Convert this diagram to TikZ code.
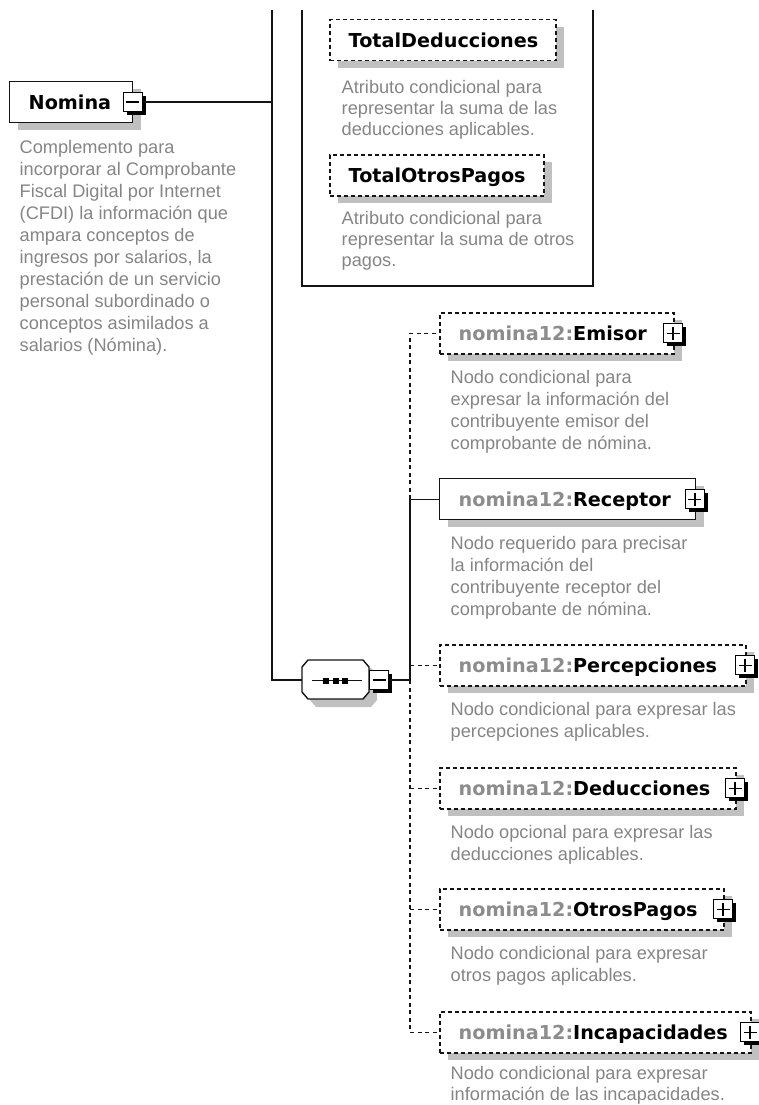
\documentclass[tikz,border=0pt]{standalone}
\usepackage{fontspec}
\setmainfont{Liberation Sans}
\newfontfamily\titlefam{DejaVu Sans}
\usetikzlibrary{shadows}
\definecolor{descgray}{HTML}{858585}
\definecolor{pfxgray}{HTML}{8C8C8C}
\definecolor{shadowgray}{HTML}{C0C0C0}
\definecolor{linecol}{HTML}{141414}
\newcommand\desclines[5]{%
  \foreach \t [count=\i] in {#5}
    \node[desc] (#1\i) at (#2, #3+#4*\i-#4) {\t};}
\newcommand\pfx{\textcolor{pfxgray}{nomina12:}}
\begin{document}
\begin{tikzpicture}[x=1pt,y=-1pt,
  line width=1.4pt,
  desc/.style={anchor=base west, inner sep=0pt, text=descgray,
    font=\fontsize{18.2}{22}\selectfont},
  title/.style={anchor=base west, inner sep=0pt, text=black,
    font=\titlefam\bfseries\fontsize{19.2}{23}\selectfont},
  box/.style={draw=linecol, fill=white, line width=1.4pt, inner sep=0pt,
    anchor=north west, minimum height=41pt,
    drop shadow={shadow xshift=8pt, shadow yshift=-7pt, fill=shadowgray, opacity=1}},
  optbox/.style={box, line width=1.5pt, dash pattern=on 4pt off 3pt},
  pm/.style={draw=black, fill=white, line width=1.3pt, minimum size=19pt, inner sep=0pt,
    drop shadow={shadow xshift=3.2pt, shadow yshift=-3.2pt, fill=black, opacity=1}},
  minusbox/.style={pm, path picture={\draw[line width=1.4pt]
      ([xshift=-6.5pt]path picture bounding box.center) --
      ([xshift=6.5pt]path picture bounding box.center);}},
  plusbox/.style={pm, path picture={\draw[line width=1.4pt]
      ([xshift=-6.5pt]path picture bounding box.center) --
      ([xshift=6.5pt]path picture bounding box.center)
      ([yshift=-6.5pt]path picture bounding box.center) --
      ([yshift=6.5pt]path picture bounding box.center);}},
  conn/.style={draw=linecol, line width=1.4pt},
  optconn/.style={conn, line width=1.5pt, dash pattern=on 4pt off 3.5pt}
]
\useasboundingbox (0,0) rectangle (758,1105);

% ---------- coordinates for the trunk and the attribute group ----------
\coordinate (trtop) at (272,10);
\coordinate (trbot) at (272,680);
\coordinate (c1) at (302,10);
\coordinate (c2) at (302,286);
\coordinate (c3) at (593,286);
\coordinate (c4) at (593,10);
\coordinate (seqw) at (302,680);
\coordinate (seqe) at (369,680);
\coordinate (bus) at (410,680);

% ---------- nodes ----------
\node[box, minimum width=123pt] (nom) at (9,81) {};
\node[title] (nomt) at ([xshift=19pt,yshift=-7pt]nom.west) {Nomina};
\node[minusbox] (nomm) at ([xshift=-0.5pt]nom.east) {};

\node[optbox, minimum width=226pt] (td) at (329,19) {};
\node[title] (tdt) at ([xshift=19pt,yshift=-7pt]td.west) {TotalDeducciones};
\node[optbox, minimum width=214pt] (top) at (329,154) {};
\node[title] (topt) at ([xshift=19pt,yshift=-7pt]top.west) {TotalOtrosPagos};

\node[optbox, minimum width=234pt] (emi) at (439,312) {};
\node[box, minimum width=256pt] (rec) at (439,478) {};
\node[optbox, minimum width=306pt] (perc) at (439,644) {};
\node[optbox, minimum width=296pt] (ded) at (439,767) {};
\node[optbox, minimum width=284pt] (op) at (439,888) {};
\node[optbox, minimum width=311pt] (inc) at (439,1011) {};

% ---------- connectors ----------
\draw[conn] (nomm.east) -- (nomm.east -| trtop);
\draw[conn] (trtop) -- (trbot) -- (seqw);
\draw[conn] (c1) -- (c2) -- (c3) -- (c4);
\draw[conn] (bus) -- (bus |- rec.west) -- (rec.west);
\draw[optconn] (bus |- rec.west) -- (bus |- emi.west) -- (emi.west);
\draw[optconn] (bus |- perc.west) -- (perc.west);
\draw[optconn] (bus |- ded.west) -- (ded.west);
\draw[optconn] (bus |- op.west) -- (op.west);
\draw[optconn] (bus) -- (bus |- inc.west) -- (inc.west);

% ---------- sequence compositor ----------
\fill[shadowgray] (310,675) -- (316,668) -- (371,668) -- (377,675) -- (377,700)
  -- (371,707) -- (316,707) -- (310,700) -- cycle;
\draw[conn, fill=white] (302,667) -- (308,660) -- (363,660) -- (369,667) -- (369,692)
  -- (363,699) -- (308,699) -- (302,692) -- cycle;
\draw[linecol, line width=1.3pt] (312,680.5) -- (362,680.5);
\fill[black] (323,677.5) rectangle (329,683.5);
\fill[black] (332.5,677.5) rectangle (338.5,683.5);
\fill[black] (342,677.5) rectangle (348,683.5);
\node[minusbox] (seqm) at ([xshift=10pt]seqe) {};
\draw[conn] (seqm.east) -- (bus);

% ---------- element titles and expand boxes ----------
\node[title] (emit) at ([xshift=19pt,yshift=-7pt]emi.west) {\pfx Emisor};
\node[plusbox] (emip) at ([xshift=-1.5pt]emi.east) {};
\node[title] (rect) at ([xshift=19pt,yshift=-7pt]rec.west) {\pfx Receptor};
\node[plusbox] (recp) at ([xshift=-1.5pt]rec.east) {};
\node[title] (perct) at ([xshift=19pt,yshift=-7pt]perc.west) {\pfx Percepciones};
\node[plusbox] (percp) at ([xshift=-1.5pt]perc.east) {};
\node[title] (dedt) at ([xshift=19pt,yshift=-7pt]ded.west) {\pfx Deducciones};
\node[plusbox] (dedp) at ([xshift=-1.5pt]ded.east) {};
\node[title] (opt) at ([xshift=19pt,yshift=-7pt]op.west) {\pfx OtrosPagos};
\node[plusbox] (opp) at ([xshift=-1.5pt]op.east) {};
\node[title] (inct) at ([xshift=19pt,yshift=-7pt]inc.west) {\pfx Incapacidades};
\node[plusbox] (incp) at ([xshift=-1.5pt]inc.east) {};

% ---------- descriptions ----------
\desclines{nd}{19}{153.5}{22}{Complemento para, incorporar al Comprobante,
  Fiscal Digital por Internet, (CFDI) la información que, ampara conceptos de,
  {ingresos por salarios, la}, prestación de un servicio, personal subordinado o,
  conceptos asimilados a, salarios (Nómina).}
\desclines{tdd}{341}{93.5}{21}{Atributo condicional para,
  representar la suma de las, deducciones aplicables.}
\desclines{topd}{341}{224.5}{21}{Atributo condicional para,
  representar la suma de otros, pagos.}
\desclines{emid}{450}{383.8}{22}{Nodo condicional para,
  expresar la información del, contribuyente emisor del, comprobante de nómina.}
\desclines{recd}{450}{549.8}{22}{Nodo requerido para precisar,
  la información del, contribuyente receptor del, comprobante de nómina.}
\desclines{percd}{450}{715.8}{22}{Nodo condicional para expresar las,
  percepciones aplicables.}
\desclines{dedd}{450}{838.2}{22}{Nodo opcional para expresar las,
  deducciones aplicables.}
\desclines{opd}{450}{959.8}{22}{Nodo condicional para expresar,
  otros pagos aplicables.}
\desclines{incd}{450}{1079.5}{21}{Nodo condicional para expresar,
  información de las incapacidades.}
\end{tikzpicture}
\end{document}
